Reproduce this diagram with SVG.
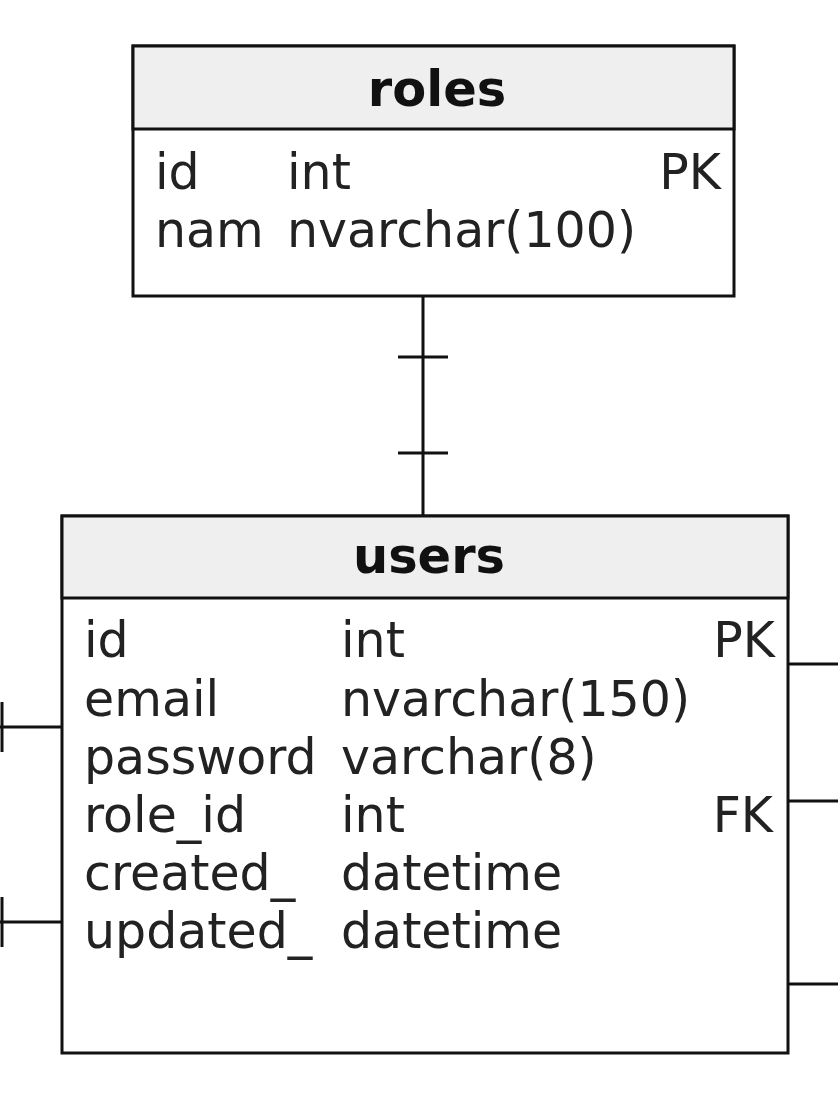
<svg xmlns="http://www.w3.org/2000/svg" width="838" height="1112" viewBox="0 0 838 1112">
<style>
.box{fill:#ffffff;stroke:#111111;stroke-width:3}
.hdr{fill:#efefef;stroke:#111111;stroke-width:3}
.ln{stroke:#111111;stroke-width:3;fill:none}
.t{font-family:"DejaVu Sans",sans-serif;font-size:49px;fill:#222222}
.h{font-family:"DejaVu Sans",sans-serif;font-size:49.5px;font-weight:bold;fill:#111111;text-anchor:middle}
.r{text-anchor:end}
</style>
<rect width="838" height="1112" fill="#ffffff"/>
<g id="connectors">
<path class="ln" d="M423 296V516M398 357H448M398 453H448"/>
<path class="ln" d="M0 727H62M2 702V752"/>
<path class="ln" d="M0 922H62M2 897V947"/>
<path class="ln" d="M788 664H838M788 801H838M788 984H838"/>
</g>
<g id="roles">
<rect class="box" x="133" y="46" width="601" height="250"/>
<rect class="hdr" x="133" y="46" width="601" height="83"/>
<text class="h" x="437" y="106">roles</text>
<text class="t" x="155" y="189">id</text>
<text class="t" x="287" y="189">int</text>
<text class="t r" x="721" y="189">PK</text>
<text class="t" x="155" y="247">nam</text>
<text class="t" x="287" y="247">nvarchar(100)</text>
</g>
<g id="users">
<rect class="box" x="62" y="516" width="726" height="537"/>
<rect class="hdr" x="62" y="516" width="726" height="82"/>
<text class="h" x="429" y="573">users</text>
<text class="t" x="84" y="657">id</text>
<text class="t" x="341" y="657">int</text>
<text class="t r" x="775" y="657">PK</text>
<text class="t" x="84" y="716">email</text>
<text class="t" x="341" y="716">nvarchar(150)</text>
<text class="t" x="84" y="774">password</text>
<text class="t" x="341" y="774">varchar(8)</text>
<text class="t" x="84" y="832">role_id</text>
<text class="t" x="341" y="832">int</text>
<text class="t r" x="773" y="832">FK</text>
<text class="t" x="84" y="890">created_</text>
<text class="t" x="341" y="890">datetime</text>
<text class="t" x="84" y="948">updated_</text>
<text class="t" x="341" y="948">datetime</text>
</g>
</svg>
